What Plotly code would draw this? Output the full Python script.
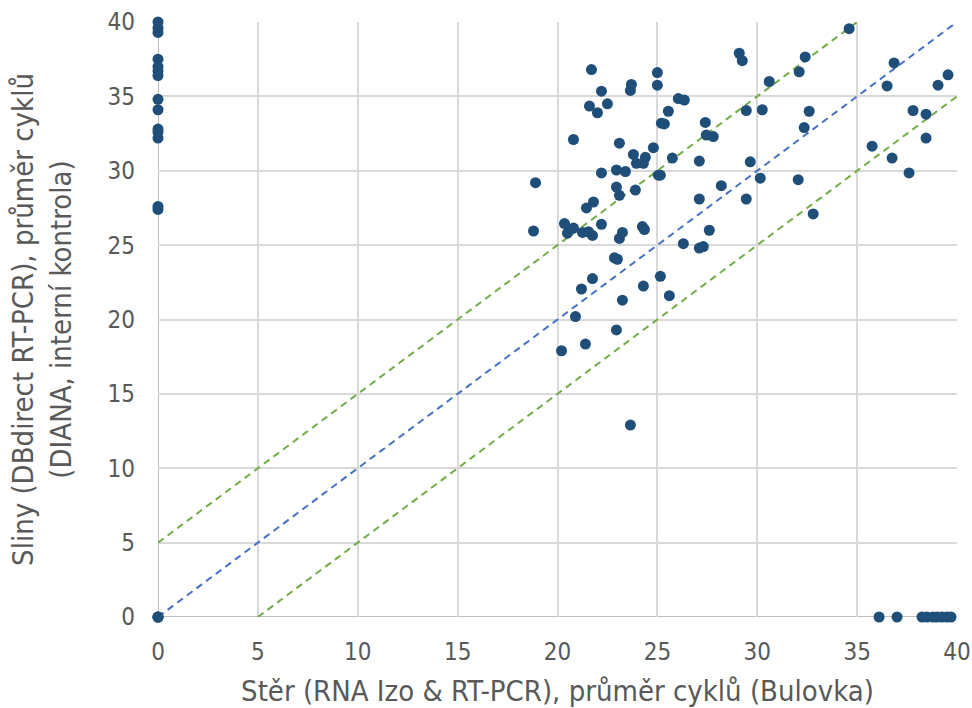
import plotly.graph_objects as go

# Swab (x) vs saliva (y) cycle thresholds
x_vals = [
    0, 0, 0, 0, 0, 0, 0, 0, 0, 0, 0, 0, 0, 0, 0, 0, 0,
    18.9, 18.8, 20.2, 21.7, 22.2, 21.6, 22.0, 22.5, 23.7, 23.65, 25.0, 25.0,
    26.05, 26.35, 25.55, 25.2, 25.35, 20.8, 23.1, 24.8, 23.8, 24.4, 23.95, 24.3,
    25.75, 27.1, 27.4, 27.45, 27.8, 29.1, 29.25, 29.45, 30.25, 29.65, 30.15,
    22.2, 22.95, 23.4, 25.05, 25.15, 28.2, 22.95, 23.1, 23.9, 27.1, 29.45,
    21.45, 21.8, 20.35, 20.8, 20.5, 21.25, 21.55, 21.75, 22.2, 23.1, 23.25,
    24.25, 24.35, 27.6, 26.3, 27.1, 27.3, 22.85, 23.0, 21.75, 21.2, 24.3,
    25.15, 23.25, 25.6, 20.9, 22.95, 21.4, 23.65,
    34.6, 32.4, 32.1, 30.6, 36.85, 36.5, 39.05, 39.55, 32.6, 32.35, 37.8,
    38.45, 38.45, 35.75, 36.75, 37.6, 32.05, 32.8,
    36.1, 37.0, 38.25, 38.5, 38.8, 39.0, 39.25, 39.5, 39.7,
]
y_vals = [
    40.0, 39.6, 39.3, 37.5, 37.0, 36.7, 36.4, 34.8, 34.1, 32.8, 32.6, 32.2,
    27.6, 27.4, 0, 0, 0,
    29.2, 25.95, 17.9, 36.8, 35.35, 34.35, 33.9, 34.5, 35.8, 35.4, 36.6, 35.75,
    34.85, 34.75, 34.0, 33.2, 33.15, 32.1, 31.85, 31.55, 31.1, 30.9, 30.5, 30.5,
    30.85, 30.65, 33.25, 32.4, 32.3, 37.9, 37.4, 34.05, 34.1, 30.6, 29.5,
    29.85, 30.05, 29.95, 29.7, 29.7, 29.0, 28.9, 28.35, 28.7, 28.1, 28.1,
    27.5, 27.9, 26.45, 26.15, 25.8, 25.85, 25.9, 25.65, 26.4, 25.45, 25.85,
    26.25, 26.05, 26.0, 25.1, 24.8, 24.9, 24.15, 24.05, 22.75, 22.05, 22.25,
    22.9, 21.3, 21.6, 20.2, 19.3, 18.35, 12.9,
    39.55, 37.65, 36.65, 36.0, 37.25, 35.7, 35.75, 36.45, 34.0, 32.9, 34.05,
    33.8, 32.2, 31.65, 30.85, 29.85, 29.4, 27.1,
    0, 0, 0, 0, 0, 0, 0, 0, 0,
]

# Reference lines: identity and +/- 5 cycles
ident_x = [0, 40]
ident_y = [0, 40]
upper_x = [0, 35]
upper_y = [5, 40]
lower_x = [5, 40]
lower_y = [0, 35]

ticks = [0, 5, 10, 15, 20, 25, 30, 35, 40]

narrow = "Liberation Sans Narrow, DejaVu Sans Condensed, Roboto, sans-serif"
grey = "#595959"

fig = go.Figure()
dash = "7px,5px"
fig.add_trace(go.Scatter(x=upper_x, y=upper_y, mode="lines",
                         line=dict(color="#70AD47", width=2, dash=dash),
                         hoverinfo="skip", showlegend=False))
fig.add_trace(go.Scatter(x=lower_x, y=lower_y, mode="lines",
                         line=dict(color="#70AD47", width=2, dash=dash),
                         hoverinfo="skip", showlegend=False))
fig.add_trace(go.Scatter(x=ident_x, y=ident_y, mode="lines",
                         line=dict(color="#4472C4", width=2, dash=dash),
                         hoverinfo="skip", showlegend=False))
fig.add_trace(go.Scatter(x=x_vals, y=y_vals, mode="markers",
                         marker=dict(color="#1F4E79", size=11, line=dict(width=0)),
                         cliponaxis=False, showlegend=False))

fig.update_layout(
    width=972, height=708,
    margin=dict(l=158, r=15, t=22, b=91),
    paper_bgcolor="white", plot_bgcolor="white",
    showlegend=False,
)
fig.update_xaxes(
    range=[0, 40], tickvals=ticks, ticktext=[str(t) for t in ticks],
    showgrid=True, gridcolor="#D9D9D9", gridwidth=2,
    zeroline=False, showline=False, ticks="", automargin=False,
    tickfont=dict(family=narrow, size=24, color=grey),
    ticklabelstandoff=18,
    title=dict(text="Stěr (RNA Izo &amp; RT-PCR), průměr cyklů (Bulovka)",
               font=dict(family=narrow, size=29, color=grey), standoff=16),
)
fig.update_yaxes(
    range=[0, 40], tickvals=ticks, ticktext=[str(t) for t in ticks],
    showgrid=True, gridcolor="#D9D9D9", gridwidth=2,
    zeroline=False, showline=False, ticks="", automargin=False,
    tickfont=dict(family=narrow, size=24, color=grey),
    ticklabelstandoff=22,
    title=dict(text="Sliny (DBdirect RT-PCR), průměr cyklů<br>(DIANA, interní kontrola)",
               font=dict(family=narrow, size=29, color=grey), standoff=27),
)
fig.add_shape(type="line", xref="x", yref="paper", x0=0, x1=0, y0=0, y1=1,
              line=dict(color="#BFBFBF", width=2), layer="below")
fig.add_shape(type="line", xref="paper", yref="y", x0=0, x1=1, y0=0, y1=0,
              line=dict(color="#BFBFBF", width=2), layer="below")

fig.write_html(
    "out.html",
    config={"displayModeBar": False},
    post_script="document.body.style.margin='0';document.body.style.overflow='hidden';",
)
